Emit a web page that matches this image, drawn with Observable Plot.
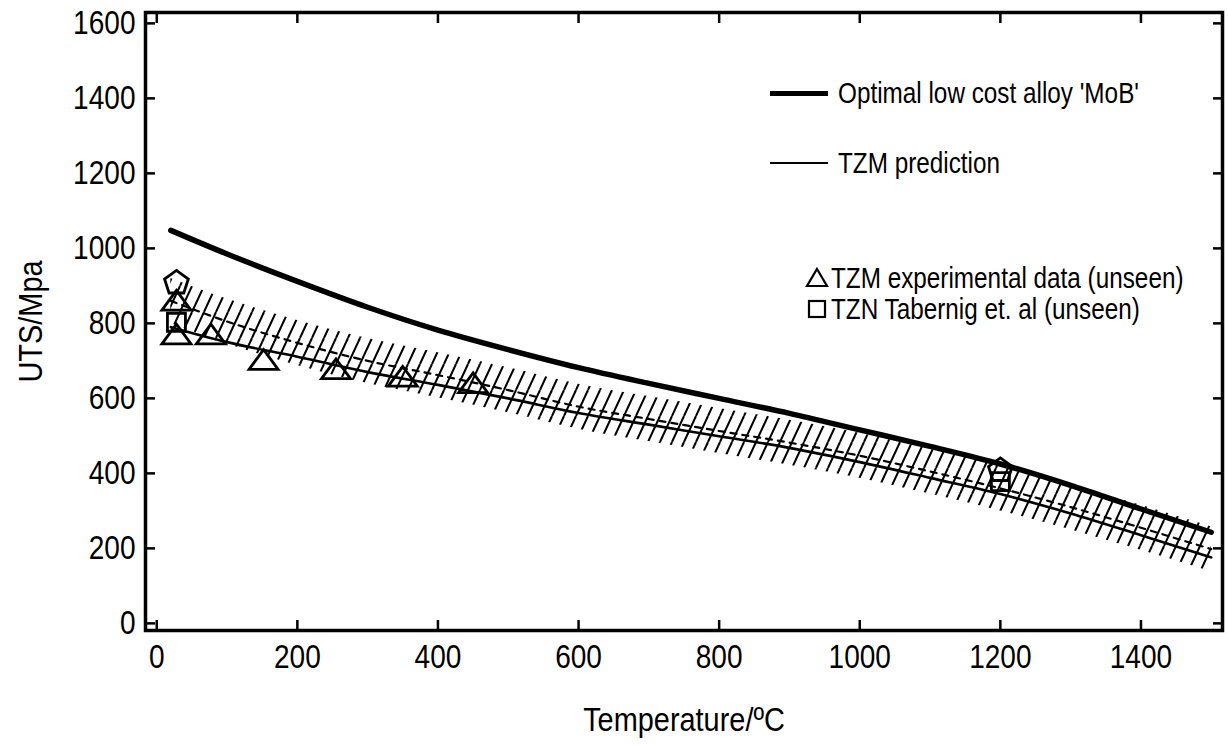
<!DOCTYPE html>
<html>
<head>
<meta charset="utf-8">
<script src="https://cdn.jsdelivr.net/npm/d3@7"></script>
<script src="https://cdn.jsdelivr.net/npm/@observablehq/plot@0.6"></script>
<style>
  html, body { margin: 0; padding: 0; background: #fff; }
  #wrap { position: relative; width: 1228px; height: 745px; font-family: "Liberation Sans", Arial, sans-serif; color: #000; }
  .leg { position: absolute; font-size: 30px; line-height: 1; white-space: nowrap; transform: translateY(-50%) scaleX(0.81); transform-origin: left center; }
  .legsym { position: absolute; }
</style>
</head>
<body>
<div id="wrap"></div>
<script>
// ---- data ----
const temps    = [20, 100, 200, 300, 400, 500, 600, 700, 800, 900, 1000, 1100, 1200, 1300, 1400, 1500];
const mobUTS   = [1048, 985, 912, 843, 782, 730, 682, 640, 600, 560, 516, 472, 425, 368, 305, 243];
const tzmPred  = [790, 750, 711, 670, 636, 600, 561, 530, 499, 468, 430, 388, 345, 293, 235, 176];
const tzmMean  = [860, 805, 748, 700, 662, 622, 578, 545, 513, 482, 447, 405, 360, 310, 255, 198];
const bandLow  = [800, 745, 688, 640, 602, 562, 518, 485, 453, 422, 387, 345, 300, 250, 195, 138];
const bandHigh = [920, 865, 808, 760, 722, 682, 638, 605, 573, 542, 507, 465, 420, 370, 315, 258];

const triTemp = [28, 28, 77, 152, 255, 350, 450];
const triUTS  = [853, 763, 763, 695, 670, 650, 633];
const sqTemp  = [28, 1200];
const sqUTS   = [803, 378];
const pentTemp = [28, 1200];
const pentUTS  = [908, 408];

const xTicks = [0, 200, 400, 600, 800, 1000, 1200, 1400];
const yTicks = [0, 200, 400, 600, 800, 1000, 1200, 1400, 1600];

const legendLabels = ["Optimal low cost alloy 'MoB'", "TZM prediction", "TZM experimental data (unseen)", "TZN Tabernig et. al (unseen)"];

// ---- derived tables ----
const rows = temps.map((t, i) => ({T: t, mob: mobUTS[i], pred: tzmPred[i], mean: tzmMean[i], lo: bandLow[i], hi: bandHigh[i]}));
const tri = triTemp.map((t, i) => ({T: t, v: triUTS[i]}));
const sq = sqTemp.map((t, i) => ({T: t, v: sqUTS[i]}));
const pent = pentTemp.map((t, i) => ({T: t, v: pentUTS[i]}));

// custom symbols
const rad = s => Math.sqrt(s / Math.PI);
const triSym = {draw(ctx, size) { const r = rad(size); const w = 2 * r, h = 1.36 * r;
  ctx.moveTo(0, -h * 2 / 3); ctx.lineTo(w / 2, h / 3); ctx.lineTo(-w / 2, h / 3); ctx.closePath(); }};
const sqSym = {draw(ctx, size) { const r = rad(size); ctx.rect(-r, -r, 2 * r, 2 * r); }};
const pentSym = {draw(ctx, size) { const r = rad(size);
  for (let k = 0; k < 5; k++) { const a = -Math.PI / 2 + k * 2 * Math.PI / 5;
    const px = r * Math.cos(a), py = r * Math.sin(a); k ? ctx.lineTo(px, py) : ctx.moveTo(px, py); }
  ctx.closePath(); }};

const font = '"Liberation Sans", Arial, sans-serif';
const curve = "monotone-x";
const fmt = d3.format("d");

const chart = Plot.plot({
  width: 1228, height: 745,
  marginLeft: 145, marginRight: 6, marginTop: 12, marginBottom: 115,
  x: {domain: [-16, 1516]},
  y: {domain: [-19, 1629]},
  style: {fontFamily: font, fontSize: "33px", color: "#000", background: "#fff", overflow: "visible"},
  marks: [
    Plot.areaY(rows, {x: "T", y1: "lo", y2: "hi", fill: "url(#hatch)", curve}),
    Plot.line(rows, {x: "T", y: "mean", stroke: "#000", strokeWidth: 2.2, strokeDasharray: "6,6", curve}),
    Plot.line(rows, {x: "T", y: "pred", stroke: "#000", strokeWidth: 2.6, curve}),
    Plot.line(rows, {x: "T", y: "mob", stroke: "#000", strokeWidth: 5.5, curve}),
    Plot.dot(tri, {x: "T", y: "v", symbol: triSym, r: 14.5, stroke: "#000", strokeWidth: 2.8, fill: "none"}),
    Plot.dot(sq, {x: "T", y: "v", symbol: sqSym, r: 9, stroke: "#000", strokeWidth: 2.8, fill: "none"}),
    Plot.dot(pent, {x: "T", y: "v", symbol: pentSym, r: 12.5, stroke: "#000", strokeWidth: 2.8, fill: "none"}),
    Plot.frame({stroke: "#000", strokeWidth: 3.5}),
    Plot.axisX({ticks: xTicks, tickFormat: fmt, tickSize: -10, tickPadding: 24, strokeWidth: 2.5, label: "Temperature/ºC", labelAnchor: "center", labelArrow: "none", labelOffset: 100, fontSize: 33}),
    Plot.axisX({anchor: "top", ticks: xTicks, tickSize: -10, strokeWidth: 2.5, tickFormat: () => "", label: null}),
    Plot.axisY({ticks: yTicks, tickFormat: fmt, tickSize: -10, tickPadding: 20, strokeWidth: 2.5, label: "UTS/Mpa", labelAnchor: "center", labelOffset: 128, labelArrow: "none", fontSize: 33}),
    Plot.axisY({anchor: "right", ticks: yTicks, tickSize: -10, strokeWidth: 2.5, tickFormat: () => "", label: null})
  ]
});

// narrow the (Arial-metric) text horizontally to match the condensed face of the reference
chart.querySelectorAll("text").forEach(t => {
  const tr = t.getAttribute("transform") || "";
  t.setAttribute("transform", tr + " scale(0.85,1)");
});
chart.querySelectorAll('[aria-label="x-axis label"] text, [aria-label="y-axis label"] text').forEach(t => {
  t.style.fontSize = "34px";
});

// hatch pattern definition for the band
const ns = "http://www.w3.org/2000/svg";
const defs = document.createElementNS(ns, "defs");
defs.innerHTML = '<pattern id="hatch" patternUnits="userSpaceOnUse" width="12" height="26">' +
  '<line x1="0" y1="26" x2="12" y2="0" stroke="#000" stroke-width="2" stroke-linecap="square"/>' +
  '<line x1="-12" y1="26" x2="0" y2="0" stroke="#000" stroke-width="2"/>' +
  '<line x1="12" y1="26" x2="24" y2="0" stroke="#000" stroke-width="2"/></pattern>';
chart.insertBefore(defs, chart.firstChild);

const wrap = document.getElementById("wrap");
wrap.appendChild(chart);

// ---- legend (HTML overlay) ----
function addLineEntry(y, sw, label) {
  const s = document.createElement("div");
  s.className = "legsym";
  s.style.left = "770px"; s.style.top = (y - sw / 2) + "px";
  s.style.width = "58px"; s.style.height = sw + "px"; s.style.background = "#000";
  wrap.appendChild(s);
  const t = document.createElement("div");
  t.className = "leg"; t.style.left = "838px"; t.style.top = y + "px"; t.textContent = label;
  wrap.appendChild(t);
}
function addSymEntry(y, svgInner, label) {
  const s = document.createElementNS(ns, "svg");
  s.setAttribute("width", 24); s.setAttribute("height", 24);
  s.setAttribute("class", "legsym");
  s.style.left = "805px"; s.style.top = (y - 12) + "px";
  s.innerHTML = svgInner;
  wrap.appendChild(s);
  const t = document.createElement("div");
  t.className = "leg"; t.style.left = "831px"; t.style.top = y + "px"; t.textContent = label;
  wrap.appendChild(t);
}
addLineEntry(93, 5, legendLabels[0]);
addLineEntry(163, 2, legendLabels[1]);
addSymEntry(278, '<path d="M12,3 L22,20 L2,20 Z" fill="none" stroke="#000" stroke-width="2.2"/>', legendLabels[2]);
addSymEntry(309, '<rect x="4" y="4" width="16" height="16" fill="none" stroke="#000" stroke-width="2.2"/>', legendLabels[3]);
</script>
</body>
</html>
